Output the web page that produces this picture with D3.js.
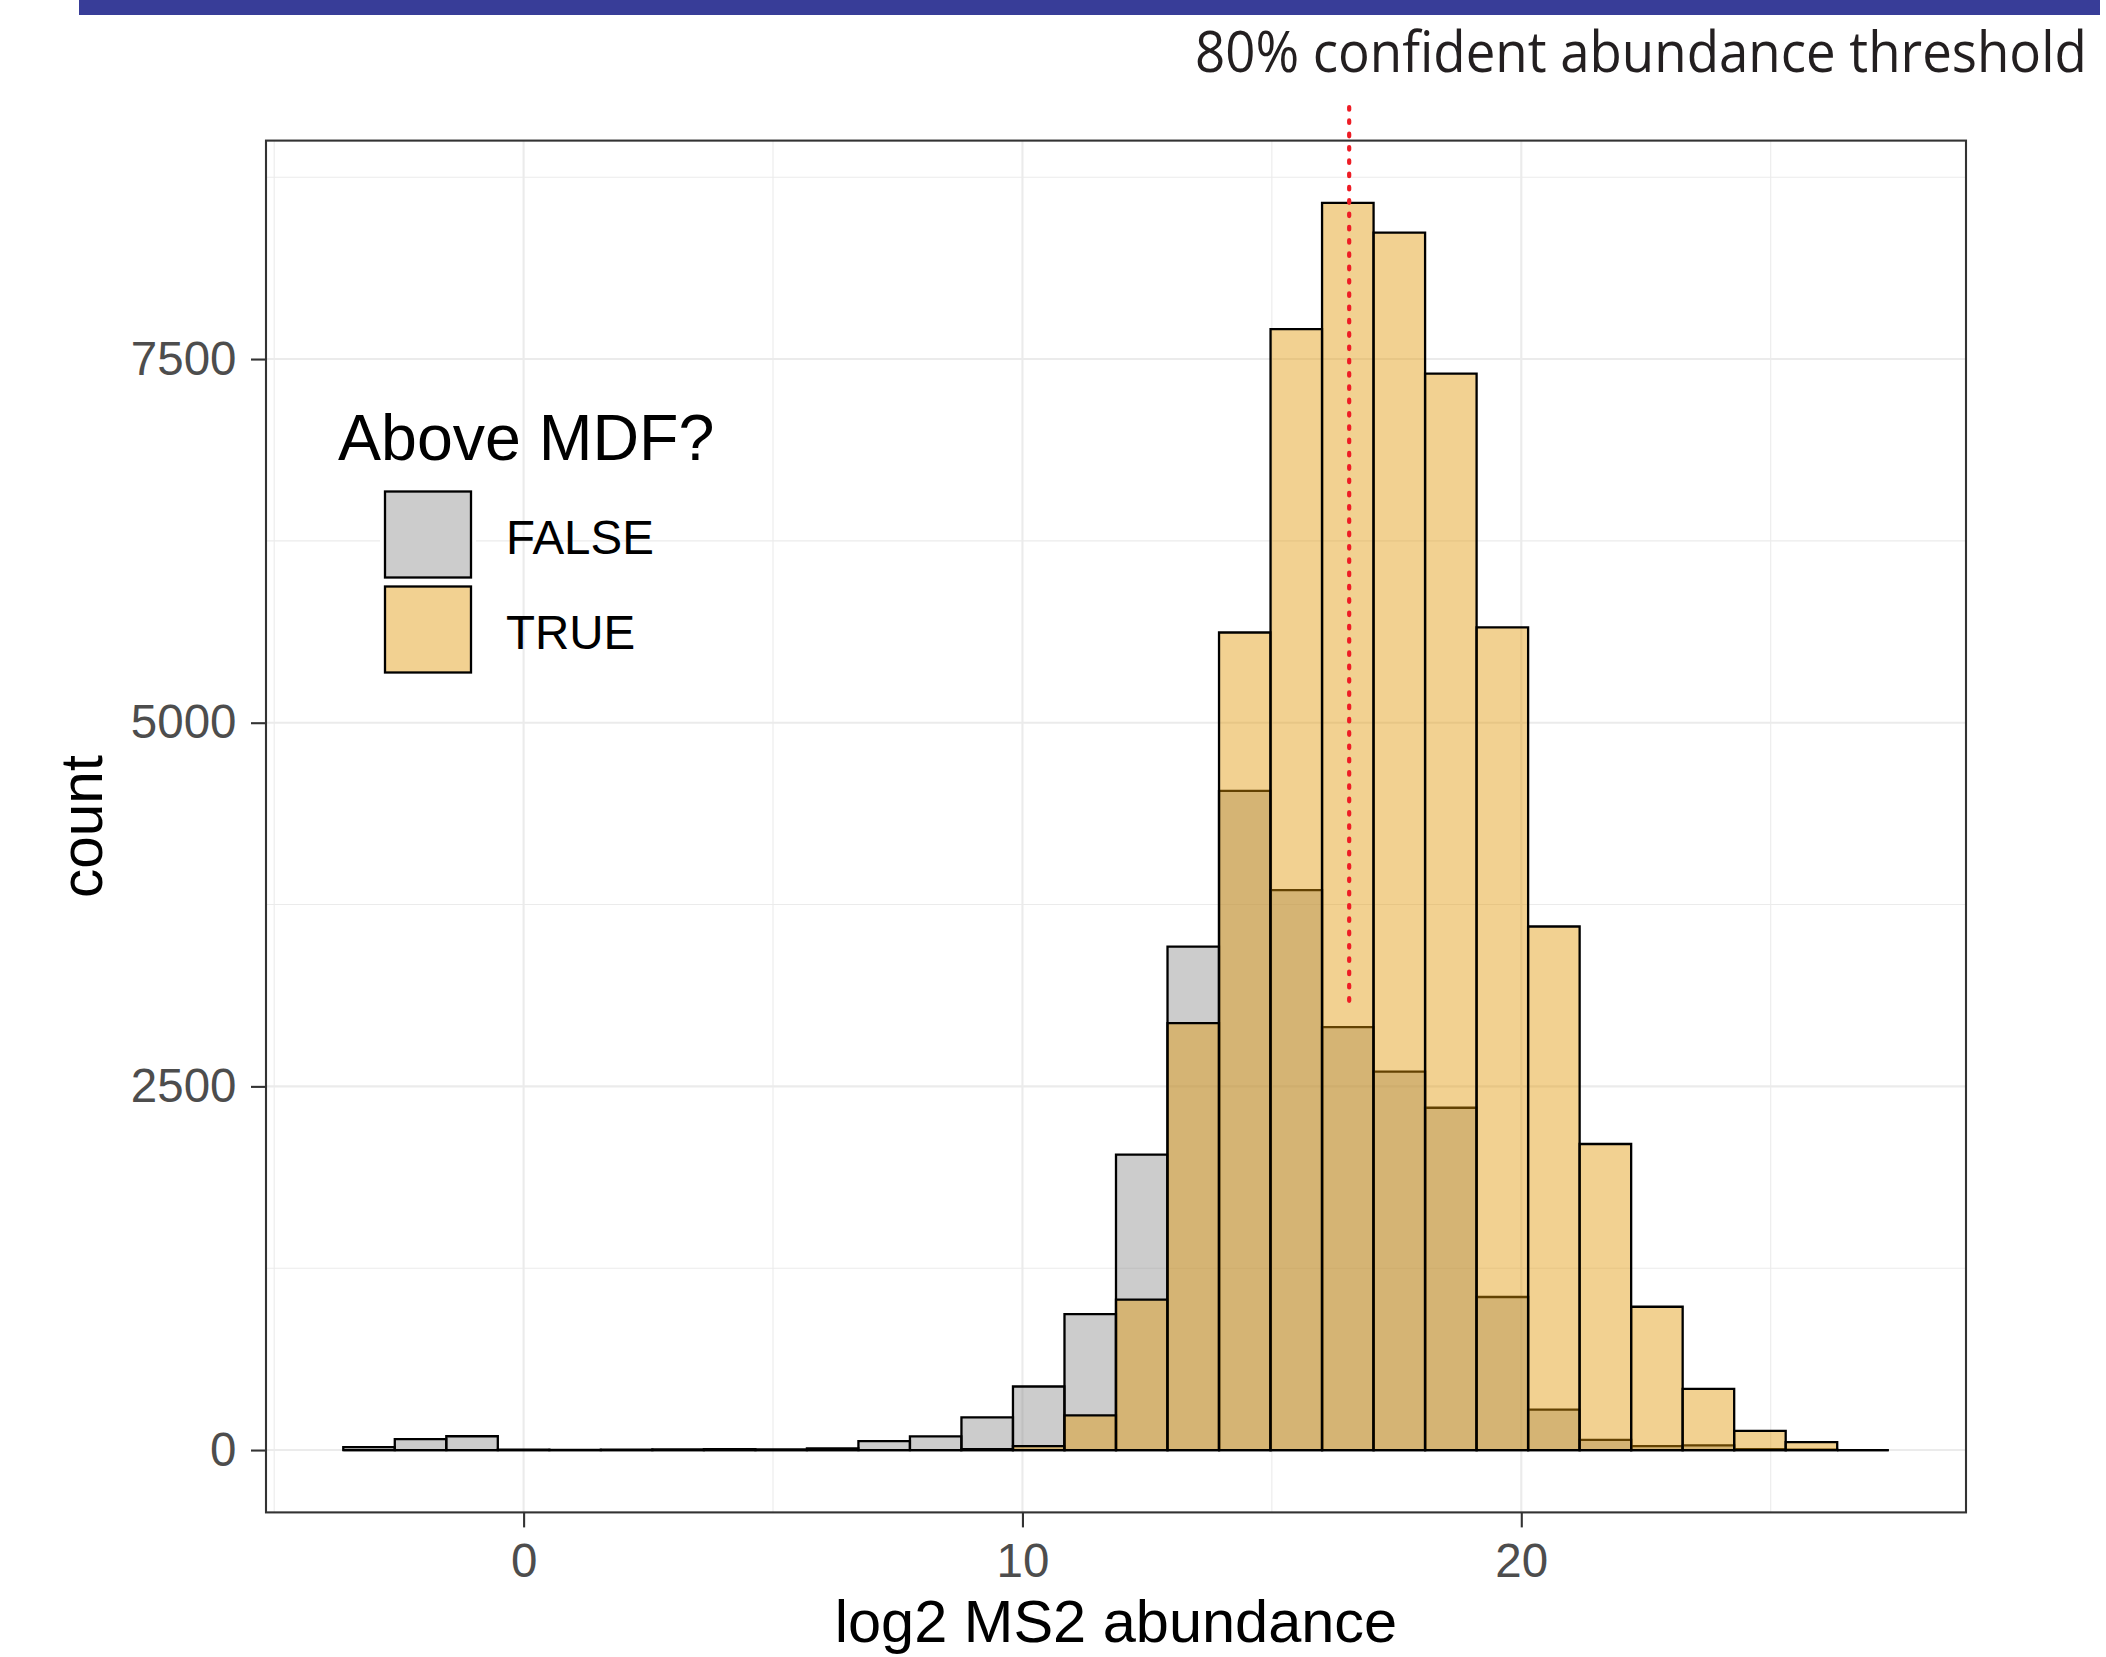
<!DOCTYPE html>
<html>
<head>
<meta charset="utf-8">
<script src="https://cdn.jsdelivr.net/npm/d3@7"></script>
<style>
  html, body { margin: 0; padding: 0; background: #ffffff; }
  svg { display: block; }
</style>
</head>
<body>
<div id="chart"></div>
<script>
// ---------------- data ----------------
const binStart = -3.615;     // left edge of first histogram bin (log2 MS2 abundance)
const binWidth = 1.0327;     // histogram bin width
const countsFalse = [20, 75, 95, 3, 1, 2, 4, 6, 5, 12, 62, 94, 225, 437, 935, 2031, 3461, 4531, 3849, 2907, 2602, 2353, 1052, 278, 70, 27, 32, 6, 2, 0];
const countsTrue  = [0, 0, 0, 0, 0, 0, 0, 0, 0, 0, 0, 0, 6, 27, 238, 1034, 2935, 5620, 7706, 8573, 8369, 7400, 5656, 3599, 2104, 985, 420, 132, 55, 0];
const groups = ["FALSE", "TRUE"];
const xMajorTicks = [0, 10, 20];
const xMinorTicks = [-5, 5, 15, 25];
const yMajorTicks = [0, 2500, 5000, 7500];
const yMinorTicks = [1250, 3750, 6250, 8750];
const thresholdX = 16.55;            // 80% confident abundance threshold
const thresholdSpan = [3080, 9232];  // vertical extent of the marker, in counts
const legendTitle = "Above MDF?";
const xTitle = "log2 MS2 abundance";
const yTitle = "count";
const annotation = "80% confident abundance threshold";

// ---------------- layout ----------------
const W = 2106, H = 1657;
const panel = { left: 266, right: 1966, top: 140.6, bottom: 1512.4 };
const fills = { FALSE: "rgb(127,127,127)", TRUE: "rgb(225,150,5)" };
const alphas = { FALSE: 0.4, TRUE: 0.44 };

const svg = d3.select("#chart").append("svg")
  .attr("width", W).attr("height", H)
  .attr("viewBox", `0 0 ${W} ${H}`);

svg.append("rect").attr("width", W).attr("height", H).attr("fill", "#ffffff");

// bins
const nBins = countsFalse.length;
const bins = d3.range(nBins).map(i => ({
  x0: binStart + i * binWidth,
  x1: binStart + (i + 1) * binWidth,
  FALSE: countsFalse[i],
  TRUE: countsTrue[i]
}));

const xLo = bins[0].x0, xHi = bins[nBins - 1].x1;
const xPad = (xHi - xLo) * 0.05;
const x = d3.scaleLinear().domain([xLo - xPad, xHi + xPad]).range([panel.left, panel.right]);
const yMax = d3.max([...countsFalse, ...countsTrue]);
const y = d3.scaleLinear().domain([-0.05 * yMax, 1.05 * yMax]).range([panel.bottom, panel.top]);

// panel grid
const grid = svg.append("g");
grid.selectAll("line.xmin").data(xMinorTicks).join("line")
  .attr("x1", d => x(d)).attr("x2", d => x(d))
  .attr("y1", panel.top).attr("y2", panel.bottom)
  .attr("stroke", "#EBEBEB").attr("stroke-width", 1.1);
grid.selectAll("line.ymin").data(yMinorTicks).join("line")
  .attr("y1", d => y(d)).attr("y2", d => y(d))
  .attr("x1", panel.left).attr("x2", panel.right)
  .attr("stroke", "#EBEBEB").attr("stroke-width", 1.1);
grid.selectAll("line.xmaj").data(xMajorTicks).join("line")
  .attr("x1", d => x(d)).attr("x2", d => x(d))
  .attr("y1", panel.top).attr("y2", panel.bottom)
  .attr("stroke", "#EBEBEB").attr("stroke-width", 2.1);
grid.selectAll("line.ymaj").data(yMajorTicks).join("line")
  .attr("y1", d => y(d)).attr("y2", d => y(d))
  .attr("x1", panel.left).attr("x2", panel.right)
  .attr("stroke", "#EBEBEB").attr("stroke-width", 2.1);

// histogram bars (FALSE first, TRUE overlaid); drawn as paths so empty bins still show their outline
const barPath = (d, g) => {
  const l = x(d.x0), r = x(d.x1), b = y(0), t = y(d[g]);
  return `M${l},${b}V${t}H${r}V${b}Z`;
};
groups.forEach(g => {
  svg.append("g").selectAll("path").data(bins).join("path")
    .attr("d", d => barPath(d, g))
    .attr("fill", fills[g])
    .attr("fill-opacity", alphas[g])
    .attr("stroke", "#000000")
    .attr("stroke-width", 2.3)
    .attr("stroke-linejoin", "miter");
});

// panel border
svg.append("rect")
  .attr("x", panel.left).attr("y", panel.top)
  .attr("width", panel.right - panel.left).attr("height", panel.bottom - panel.top)
  .attr("fill", "none").attr("stroke", "#333333").attr("stroke-width", 2.1);

// axes
const tickFont = "'Liberation Sans', Arial, Helvetica, sans-serif";
const xAxis = svg.append("g").attr("transform", `translate(0,${panel.bottom})`)
  .call(d3.axisBottom(x).tickValues(xMajorTicks).tickSize(15).tickPadding(15.5).tickFormat(d3.format("d")));
const yAxis = svg.append("g").attr("transform", `translate(${panel.left},0)`)
  .call(d3.axisLeft(y).tickValues(yMajorTicks).tickSize(15).tickPadding(14.5).tickFormat(d3.format("d")));
[xAxis, yAxis].forEach(a => {
  a.select(".domain").remove();
  a.selectAll(".tick line").attr("stroke", "#333333").attr("stroke-width", 2.1);
  a.selectAll(".tick text").attr("fill", "#4D4D4D")
    .style("font-family", tickFont).style("font-size", "47.5px");
});

// axis titles
svg.append("text")
  .attr("x", (panel.left + panel.right) / 2).attr("y", 1642)
  .attr("text-anchor", "middle")
  .style("font-family", tickFont).style("font-size", "59.5px").attr("fill", "#000")
  .text(xTitle);
svg.append("text")
  .attr("transform", `translate(101.5,${(panel.top + panel.bottom) / 2}) rotate(-90)`)
  .attr("text-anchor", "middle")
  .style("font-family", tickFont).style("font-size", "58.5px").attr("fill", "#000")
  .text(yTitle);

// legend
const legend = svg.append("g");
legend.append("text")
  .attr("x", 338).attr("y", 460)
  .style("font-family", tickFont).style("font-size", "64.5px").attr("fill", "#000")
  .text(legendTitle);
groups.forEach((g, i) => {
  const ky = 487 + i * 95;
  legend.append("rect").attr("x", 380).attr("y", ky).attr("width", 96).attr("height", 95).attr("fill", "#ffffff");
  legend.append("rect")
    .attr("x", 385).attr("y", ky + 4.5).attr("width", 86).attr("height", 86)
    .attr("fill", fills[g]).attr("fill-opacity", alphas[g])
    .attr("stroke", "#000").attr("stroke-width", 2.3);
  legend.append("text")
    .attr("x", 506).attr("y", ky + 66.5)
    .style("font-family", tickFont).style("font-size", "47.5px").attr("fill", "#000")
    .text(g);
});

// threshold marker (red dotted line)
svg.append("line")
  .attr("x1", x(thresholdX)).attr("x2", x(thresholdX))
  .attr("y1", y(thresholdSpan[1])).attr("y2", y(thresholdSpan[0]))
  .attr("stroke", "#EE1C25").attr("stroke-width", 4.2)
  .attr("stroke-linecap", "round")
  .attr("stroke-dasharray", "2.6 10.7");

// slide decoration: top banner
svg.append("rect").attr("x", 79).attr("y", 0).attr("width", 2021).attr("height", 15).attr("fill", "#383D98");

// annotation text (condensed horizontally to mimic the narrow slide font, fitted inside the page)
const annG = svg.append("g");
const ann = annG.append("text")
  .attr("x", 0).attr("y", 0)
  .style("font-family", "'Open Sans', 'Noto Sans', sans-serif").style("font-size", "56px")
  .attr("fill", "#231F20")
  .text(annotation);
const natural = ann.node().getComputedTextLength();
const targetWidth = 892;
annG.attr("transform", `translate(1195,71.5) scale(${targetWidth / natural},1)`);
</script>
</body>
</html>
